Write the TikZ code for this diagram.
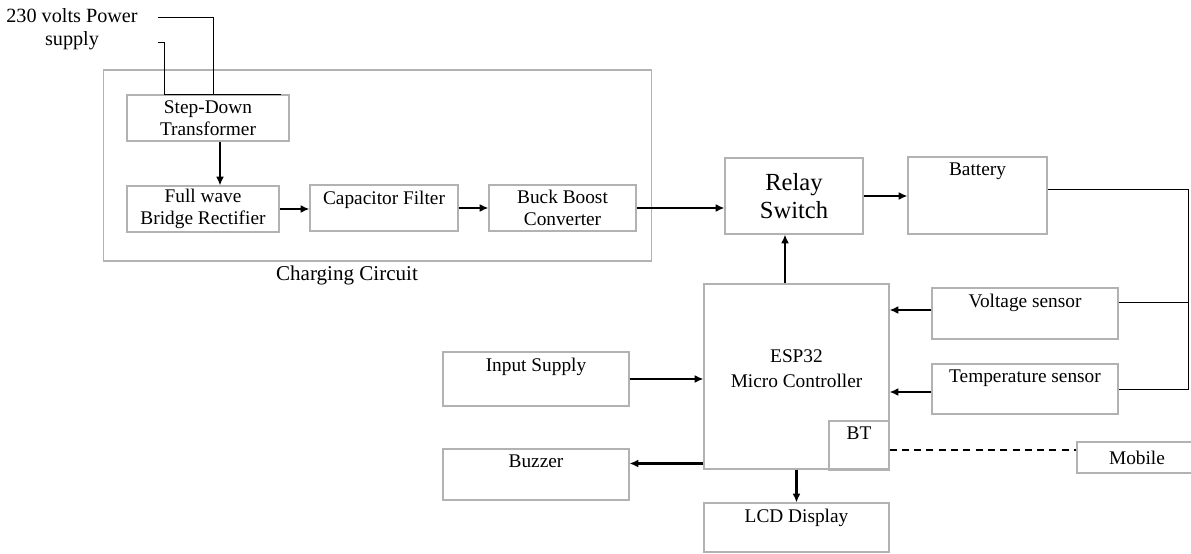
\documentclass[tikz,border=0pt]{standalone}
\usepackage{fontspec}
\setmainfont{Liberation Serif}
\usetikzlibrary{arrows.meta}

\begin{document}
\begin{tikzpicture}[x=0.02cm,y=-0.02cm,
    block/.style={draw=gray!60,line width=0.6pt,inner sep=0pt,align=center,font=\fontsize{11}{12.5}\selectfont},
    toptext/.style={anchor=north,font=\fontsize{11}{12.5}\selectfont},
    arrow/.style={line width=1.3pt,-{Latex[length=5pt,width=4.5pt]}},
    wire/.style={line width=0.5pt}]
        % Fix picture size
        \useasboundingbox (0,0) rectangle (1191,554);
        % Draw charging circuit frame
        \node[block,minimum width=10.98cm,minimum height=3.82cm] (charger) at (377.5,165.5) {};
        \node[font=\fontsize{12}{14}\selectfont] (chargerlabel) at (347,275) {Charging Circuit};
        % Draw charging blocks
        \node[block,minimum width=3.24cm,minimum height=0.92cm] (step) at (208,118) {Step-Down\\Transformer};
        \node[block,minimum width=3.04cm,minimum height=0.92cm] (rect) at (203,209) {Full wave\\Bridge Rectifier};
        \node[block,minimum width=2.96cm,minimum height=0.92cm,label={[name=captext,toptext]north:Capacitor Filter}] (cap) at (384,208) {};
        \node[block,minimum width=2.94cm,minimum height=0.92cm] (buck) at (562.5,208) {Buck Boost\\Converter};
        % Draw mains supply
        \node[align=center,font=\fontsize{11.5}{13}\selectfont] (mains) at (72,29) {230 volts Power\\supply};
        \coordinate (mainsa) at (158,17);
        \coordinate (mainsb) at (158,42);
        \draw[wire] (mainsa) -| ([xshift=0.1cm]step.north);
        \draw[wire] (mainsb) -| ([xshift=-0.88cm]step.north);
        \draw[line width=1pt] ([xshift=-0.88cm]step.north) -- ([xshift=-0.18cm]step.north east);
        % Draw relay and battery
        \node[block,minimum width=2.76cm,minimum height=1.52cm,font=\fontsize{14}{16}\selectfont] (relay) at (794,196) {Relay\\Switch};
        \node[block,minimum width=2.78cm,minimum height=1.54cm,label={[name=batterytext,toptext]north:Battery}] (battery) at (977.5,195.5) {};
        % Draw controller
        \node[block,minimum width=3.70cm,minimum height=3.70cm,label={[name=esptext,align=center,font=\fontsize{11}{14}\selectfont,yshift=0.16cm]center:ESP32\\Micro Controller}] (esp) at (796.5,376.5) {};
        \node[block,minimum width=1.20cm,minimum height=0.98cm,label={[name=bttext,toptext]north:BT}] (bt) at (859,445.5) {};
        % Draw sensors
        \node[block,minimum width=3.72cm,minimum height=1.02cm,label={[name=volttext,toptext]north:Voltage sensor}] (volt) at (1025,313.5) {};
        \node[block,minimum width=3.72cm,minimum height=1.00cm,label={[name=temptext,toptext]north:Temperature sensor}] (temp) at (1025,389) {};
        % Draw other peripherals
        \node[block,minimum width=3.72cm,minimum height=1.08cm,label={[name=inputtext,toptext]north:Input Supply}] (input) at (536,379) {};
        \node[block,minimum width=3.72cm,minimum height=1.02cm,label={[name=buzzertext,toptext]north:Buzzer}] (buzzer) at (536,474.5) {};
        \node[block,minimum width=3.70cm,minimum height=0.98cm,label={[name=lcdtext,toptext]north:LCD Display}] (lcd) at (796.5,527.5) {};
        \node[block,minimum width=2.40cm,minimum height=0.62cm] (mobile) at (1137,457.5) {Mobile};
        % Draw arrows
        \draw[arrow] ([xshift=0.24cm]step.south) -- ([xshift=0.24cm]step.south |- rect.north);
        \draw[arrow] (rect.east) -- (rect.east -| cap.west);
        \draw[arrow] (cap.east) -- (cap.east -| buck.west);
        \draw[arrow] (buck.east) -- (buck.east -| relay.west);
        \draw[arrow] (relay.east) -- (relay.east -| battery.west);
        \draw[arrow] ([xshift=-0.23cm]esp.north) -- ([xshift=-0.23cm]esp.north |- relay.south);
        \draw[arrow] ([yshift=0.07cm]volt.west) -- ([yshift=0.07cm]volt.west -| esp.east);
        \draw[arrow] ([yshift=-0.06cm]temp.west) -- ([yshift=-0.06cm]temp.west -| esp.east);
        \draw[arrow] (input.east) -- (input.east -| esp.west);
        \draw[arrow] ([yshift=0.12cm]esp.south west) -- ([yshift=0.12cm]esp.south west -| buzzer.east);
        \draw[arrow] (esp.south) -- (lcd.north);
        % Draw bluetooth link
        \draw[line width=0.9pt,dash pattern=on 4pt off 3pt] ([yshift=-0.09cm]bt.east) -- ([yshift=-0.09cm]bt.east -| mobile.west);
        % Draw sensing lines
        \coordinate (railtop) at (1188,189);
        \draw[wire] (battery.east |- railtop) -- (railtop) -- (railtop |- temp.east) -- (temp.east);
        \draw[wire] ([yshift=0.23cm]volt.east) -- ([yshift=0.23cm]volt.east -| railtop);
    \end{tikzpicture}
\end{document}
